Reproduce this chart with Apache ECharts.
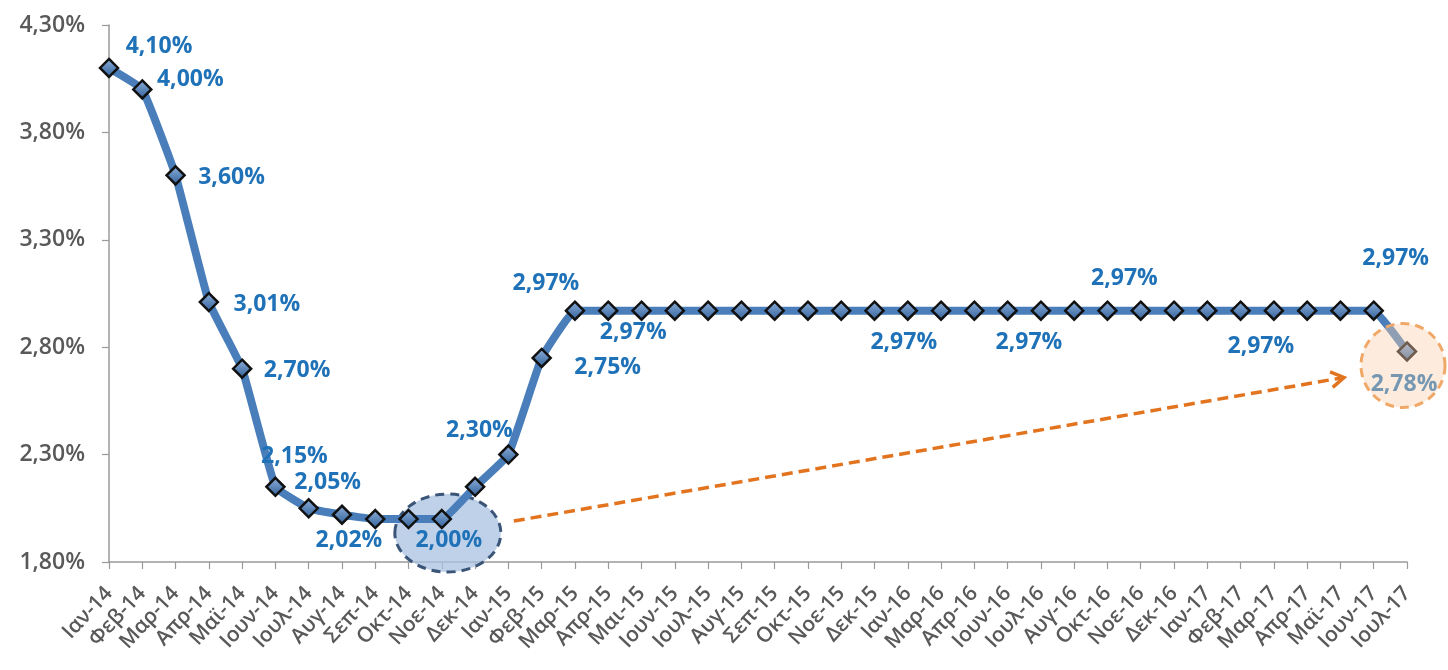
<!DOCTYPE html>
<html>
<head>
<meta charset="utf-8">
<script src="https://cdn.jsdelivr.net/npm/echarts@6/dist/echarts.min.js"></script>
<style>
  html, body { margin: 0; padding: 0; background: #ffffff; }
  #chart { width: 1448px; height: 670px; }
</style>
</head>
<body>
<div id="chart"></div>
<script>
// Monthly rate, January 2014 – July 2017
const months = [
  'Ιαν-14', 'Φεβ-14', 'Μαρ-14', 'Απρ-14', 'Μαϊ-14', 'Ιουν-14', 'Ιουλ-14', 'Αυγ-14',
  'Σεπ-14', 'Οκτ-14', 'Νοε-14', 'Δεκ-14', 'Ιαν-15', 'Φεβ-15', 'Μαρ-15', 'Απρ-15',
  'Μαι-15', 'Ιουν-15', 'Ιουλ-15', 'Αυγ-15', 'Σεπ-15', 'Οκτ-15', 'Νοε-15', 'Δεκ-15',
  'Ιαν-16', 'Μαρ-16', 'Απρ-16', 'Ιουν-16', 'Ιουλ-16', 'Αυγ-16', 'Οκτ-16', 'Νοε-16',
  'Δεκ-16', 'Ιαν-17', 'Φεβ-17', 'Μαρ-17', 'Απρ-17', 'Μαϊ-17', 'Ιουν-17', 'Ιουλ-17'
];
const rates = [
  4.10, 4.00, 3.60, 3.01, 2.70, 2.15, 2.05, 2.02,
  2.00, 2.00, 2.00, 2.15, 2.30, 2.75, 2.97, 2.97,
  2.97, 2.97, 2.97, 2.97, 2.97, 2.97, 2.97, 2.97,
  2.97, 2.97, 2.97, 2.97, 2.97, 2.97, 2.97, 2.97,
  2.97, 2.97, 2.97, 2.97, 2.97, 2.97, 2.97, 2.78
];
// Value axis ticks: 1,80% … 4,30% in steps of 0,50
const yMin = 1.80;
const yMax = 4.30;
const yStep = 0.50;

// Points whose value is printed, and where the text sits relative to the marker
const labelOffsets = {
  0: [50, -22], 1: [48, -10], 2: [56, 2], 3: [58, 2], 4: [55, 2],
  5: [19, -30], 6: [19, -26], 7: [7, 26], 10: [7, 21], 12: [-29, -24],
  13: [66, 10], 14: [-29, -27], 15: [25, 22], 24: [-4, 32], 28: [-12, 32],
  30: [17, -32], 35: [-13, 36], 38: [22, -52], 39: [-3, 33]
};
// Highlighted points: the trough and the latest month
const troughIdx = 10;
const latestIdx = rates.length - 1;

const pct = v => v.toFixed(2).replace('.', ',') + '%';

const seriesData = rates.map((v, i) => {
  const off = labelOffsets[i];
  if (!off) return v;
  return {
    value: v,
    label: { show: true, position: 'inside', offset: off, formatter: p => pct(p.value) }
  };
});

const chart = echarts.init(document.getElementById('chart'), null, { renderer: 'canvas' });

chart.setOption({
  animation: false,
  backgroundColor: '#ffffff',
  grid: { left: 109, right: 41, top: 25, bottom: 108, containLabel: false },
  xAxis: {
    type: 'category',
    data: months,
    boundaryGap: false,
    axisLine: { lineStyle: { color: '#9a9a9a', width: 1.5 } },
    axisTick: { show: true, alignWithLabel: true, length: 7, inside: false, interval: 0,
                lineStyle: { color: '#9a9a9a', width: 1.2 } },
    axisLabel: {
      interval: 0, rotate: 47, margin: 28,
      color: '#595959', fontFamily: 'Open Sans', fontWeight: 600, fontSize: 21
    },
    splitLine: { show: false }
  },
  yAxis: {
    type: 'value',
    min: yMin, max: yMax, interval: yStep,
    axisLine: { show: true, lineStyle: { color: '#9a9a9a', width: 1.5 } },
    axisTick: { show: true, length: 7, lineStyle: { color: '#9a9a9a', width: 1.2 } },
    axisLabel: {
      margin: 24, color: '#595959', fontFamily: 'Open Sans', fontWeight: 600, fontSize: 23,
      formatter: v => pct(v)
    },
    splitLine: { show: false }
  },
  series: [{
    type: 'line',
    data: seriesData,
    smooth: 0.1,
    symbol: 'diamond',
    symbolSize: 18,
    showAllSymbol: true,
    lineStyle: { color: '#4a7ebb', width: 8 },
    itemStyle: {
      color: new echarts.graphic.LinearGradient(0, 0, 0, 1, [
        { offset: 0, color: '#8fb1dc' },
        { offset: 1, color: '#2f5f98' }
      ]),
      borderColor: '#111111',
      borderWidth: 2.5
    },
    label: {
      show: false,
      color: '#1f72b8', fontFamily: 'Open Sans', fontWeight: 700, fontSize: 23,
      align: 'center', verticalAlign: 'middle'
    },
    z: 3
  }]
});

// Annotations anchored to data points through the chart's own scales
const trough = chart.convertToPixel({ seriesIndex: 0 }, [troughIdx, rates[troughIdx]]);
const latest = chart.convertToPixel({ seriesIndex: 0 }, [latestIdx, rates[latestIdx]]);

const start = [trough[0] + 72, trough[1] + 2];
const end = [latest[0] - 63, latest[1] + 26];
const ang = Math.atan2(end[1] - start[1], end[0] - start[0]);
const headLen = 15, headSpread = 0.55;
const head = [
  [end[0] - headLen * Math.cos(ang - headSpread), end[1] - headLen * Math.sin(ang - headSpread)],
  [end[0], end[1]],
  [end[0] - headLen * Math.cos(ang + headSpread), end[1] - headLen * Math.sin(ang + headSpread)]
];

chart.setOption({
  graphic: [
    {
      type: 'ellipse', z: 1,
      shape: { cx: trough[0] + 6, cy: trough[1] + 14, rx: 53, ry: 39 },
      style: { fill: 'rgba(170,194,226,0.75)', stroke: '#3a5578', lineWidth: 3, lineDash: [9, 6] }
    },
    {
      type: 'circle', z: 10,
      shape: { cx: latest[0] - 4, cy: latest[1] + 14, r: 42 },
      style: { fill: 'rgba(251,208,170,0.4)', stroke: '#f0a868', lineWidth: 3, lineDash: [9, 6] }
    },
    {
      type: 'line', z: 10,
      shape: { x1: start[0], y1: start[1], x2: end[0] - 3 * Math.cos(ang), y2: end[1] - 3 * Math.sin(ang) },
      style: { stroke: '#e3741f', lineWidth: 3.5, lineDash: [11, 6] }
    },
    {
      type: 'polyline', z: 10,
      shape: { points: head },
      style: { stroke: '#e3741f', lineWidth: 3.5, fill: null, lineJoin: 'miter' }
    }
  ]
});
</script>
</body>
</html>
